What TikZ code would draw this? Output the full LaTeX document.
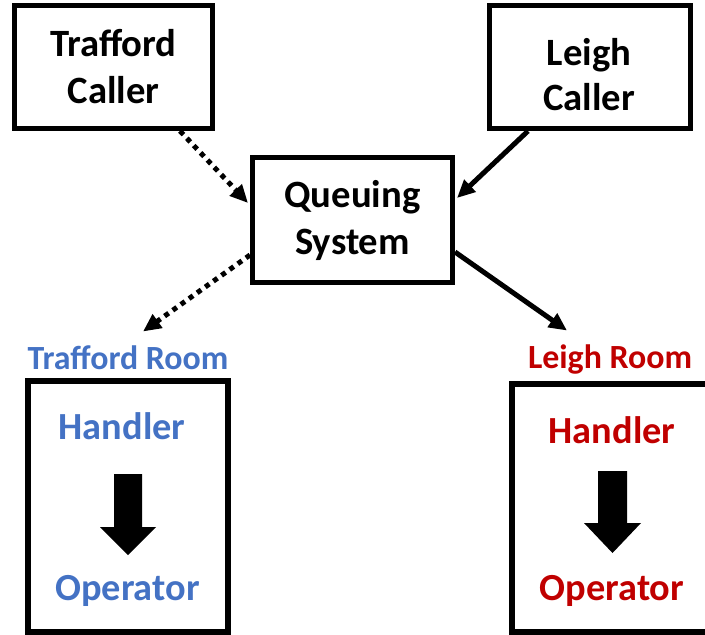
\documentclass[tikz,border=0pt]{standalone}
\usepackage{fontspec}
\setmainfont{Carlito}
\usetikzlibrary{arrows.meta,calc}
\definecolor{roomblue}{HTML}{4472C4}
\definecolor{roomred}{HTML}{C00000}

\begin{document}
\begin{tikzpicture}[x=0.75pt,y=-0.75pt,
  box/.style={draw=black,line width=3.75pt,inner sep=0pt,align=center,
    font=\fontsize{29}{35.25}\selectfont\bfseries},
  roombox/.style={draw=black,line width=4.5pt,inner sep=0pt},
  boxtext/.style={align=center,font=\fontsize{29}{33.75}\selectfont\bfseries},
  roomlabel/.style={anchor=base,font=\fontsize{25.4}{30}\selectfont\bfseries},
  roomtext/.style={anchor=base,font=\fontsize{28.75}{34}\selectfont\bfseries},
  flow/.style={line width=3.75pt,-{Triangle[length=13.5pt,width=12pt]}},
  dotflow/.style={flow,dash pattern=on 3.75pt off 3.75pt},
  bigarrow/.style={fill=black,draw=none}
]
\useasboundingbox (0,0) rectangle (705,634);
\clip (0,0) rectangle (705,634);

% callers and the queue
\node[box,minimum width=148.5pt,minimum height=92.25pt] (TC) at (113.5,67) {Trafford\\Caller};
\node[box,minimum width=150.75pt,minimum height=92.25pt] (LC) at (590,67) {};
\node[boxtext] (LCt) at (589,74.5) {Leigh\\Caller};
\node[box,minimum width=150pt,minimum height=93.75pt] (Q) at (352.5,220) {Queuing\\System};

% room labels
\node[roomlabel,text=roomblue] (TRl) at (128,369) {Trafford Room};
\node[roomlabel,text=roomred] (LRl) at (610,368) {Leigh Room};

% rooms
\node[roombox,minimum width=150pt,minimum height=188.25pt] (TR) at (127.5,506) {};
\node[roombox,minimum width=150.75pt,minimum height=186pt] (LR) at (612,507.5) {};

\node[roomtext,text=roomblue] (TH) at (122,439) {Handler};
\node[roomtext,text=roomblue] (TO) at (127.5,600) {Operator};
\node[roomtext,text=roomred] (LH) at (612,443) {Handler};
\node[roomtext,text=roomred] (LO) at (612,600) {Operator};

% handler to operator
\fill[bigarrow] (114,474) -- (142,474) -- (142,527) -- (156,527) -- (128,555)
  -- (100,527) -- (114,527) -- cycle;
\fill[bigarrow] (598,471) -- (627,471) -- (627,523) -- (641,523) -- (612.5,553)
  -- (584,523) -- (598,523) -- cycle;

% call routing
\draw[dotflow] ($(TC.south)+(66.5,0)$) -- ($(Q.west)+(-2,-17)$);
\draw[flow] ($(LC.south)+(-62,0)$) -- ($(Q.east)+(2,-22)$);
\draw[dotflow] ($(Q.west)+(0,35)$) -- ($(TRl.north)+(15,-9)$);
\draw[flow] ($(Q.east)+(0,32)$) -- ($(LRl.north)+(-43,-9)$);
\end{tikzpicture}
\end{document}
